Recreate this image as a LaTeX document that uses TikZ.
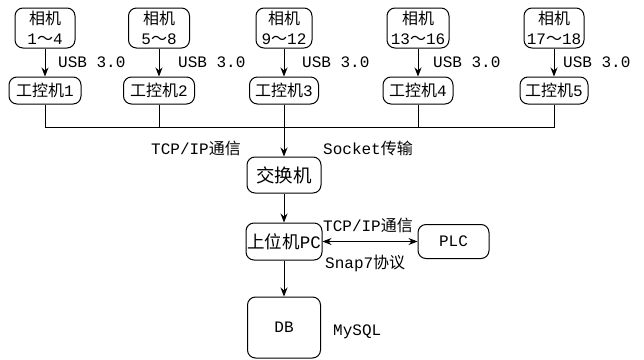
\documentclass[tikz,border=0pt]{standalone}
\usepackage{fontspec}
\setmainfont{Liberation Mono}
\newfontfamily\cjk{Noto Sans CJK SC}
\usetikzlibrary{arrows.meta}
\begin{document}
\begin{tikzpicture}[x=1pt,y=-1pt,
  box/.style={draw, rounded corners=8pt, line width=1pt, inner sep=0pt, align=center, font=\fontsize{16}{20}\selectfont},
  lbl/.style={inner sep=0pt, anchor=west, font=\fontsize{16}{20}\selectfont},
  arr/.style={-{Stealth[length=9pt,width=7pt]}, line width=0.8pt},
  darr/.style={{Stealth[length=9pt,width=7pt]}-{Stealth[length=9pt,width=7pt]}, line width=0.8pt},
  ln/.style={line width=0.8pt}]
\useasboundingbox (0,0) rectangle (644,359);
% cameras
\node[box, minimum width=60pt, minimum height=40pt] (c1) at (45,28) {{\cjk 相机}\\1{\cjk ～}4};
\node[box, minimum width=61pt, minimum height=40pt] (c2) at (159,28) {{\cjk 相机}\\5{\cjk ～}8};
\node[box, minimum width=56pt, minimum height=40pt] (c3) at (284,28) {{\cjk 相机}\\9{\cjk ～}12};
\node[box, minimum width=62pt, minimum height=40pt] (c4) at (418,28) {{\cjk 相机}\\13{\cjk ～}16};
\node[box, minimum width=60pt, minimum height=40pt] (c5) at (554,28) {{\cjk 相机}\\17{\cjk ～}18};
% industrial PCs
\node[box, minimum width=72pt, minimum height=27pt] (g1) at (45,90.5) {{\cjk 工控机}1};
\node[box, minimum width=71pt, minimum height=27pt] (g2) at (159,90.5) {{\cjk 工控机}2};
\node[box, minimum width=69pt, minimum height=27pt] (g3) at (284,90.5) {{\cjk 工控机}3};
\node[box, minimum width=70pt, minimum height=27pt] (g4) at (418,90.5) {{\cjk 工控机}4};
\node[box, minimum width=68pt, minimum height=27pt] (g5) at (554,90.5) {{\cjk 工控机}5};
% lower nodes
\node[box, minimum width=74pt, minimum height=36pt, font=\fontsize{18.5}{20}\selectfont] (sw) at (284,175) {\cjk 交换机};
\node[box, minimum width=76pt, minimum height=37pt, font=\fontsize{17.5}{20}\selectfont] (pc) at (284,241.5) {{\cjk 上位机}PC};
\node[box, minimum width=71pt, minimum height=34pt] (plc) at (453.5,241.5) {PLC};
\node[box, minimum width=73pt, minimum height=61pt] (db) at (284,327.5) {DB};
\coordinate (busL) at (45,127);
% connectors
\foreach \i in {1,...,5} {\draw[arr] (c\i.south) -- (g\i.north);}
\draw[ln] (g1.south) -- (busL) -| (g5.south);
\draw[ln] (g2.south) -- (g2.south |- busL);
\draw[ln] (g4.south) -- (g4.south |- busL);
\draw[arr] (g3.south) -- (sw.north);
\draw[arr] (sw.south) -- (pc.north);
\draw[darr] (pc.east) -- (plc.west);
\draw[arr] (pc.south) -- (db.north);
% labels
\node[lbl] (u1) at (58,62) {USB 3.0};
\node[lbl] (u2) at (178,62) {USB 3.0};
\node[lbl] (u3) at (302,62) {USB 3.0};
\node[lbl] (u4) at (433,62) {USB 3.0};
\node[lbl] (u5) at (563,62) {USB 3.0};
\node[lbl] (t1) at (151,148) {TCP/IP{\cjk 通信}};
\node[lbl] (s1) at (323,148) {Socket{\cjk 传输}};
\node[lbl] (t2) at (323,225) {TCP/IP{\cjk 通信}};
\node[lbl] (s7) at (325,263) {Snap7{\cjk 协议}};
\node[lbl] (my) at (333,332) {MySQL};
\end{tikzpicture}
\end{document}
